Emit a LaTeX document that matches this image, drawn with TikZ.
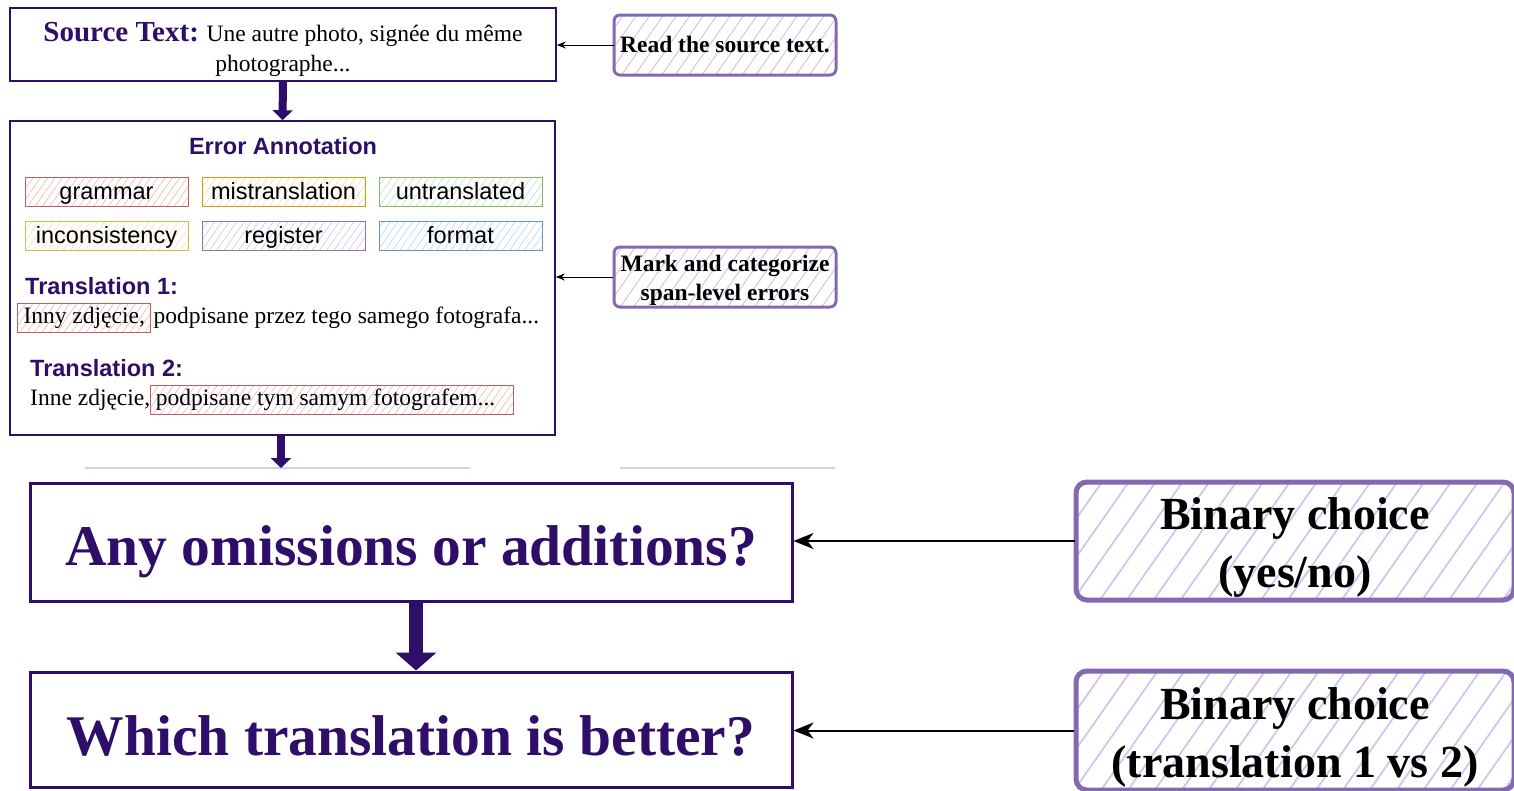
\documentclass[tikz,border=0pt]{standalone}
\usepackage{fontspec}
\setmainfont{Liberation Serif}
\setsansfont{Liberation Sans}
\usetikzlibrary{arrows.meta,positioning,patterns.meta}
\definecolor{deeppurple}{RGB}{46,14,104}
\definecolor{lilac}{RGB}{132,104,176}
\definecolor{lilachatch}{RGB}{210,196,238}
\definecolor{cutline}{RGB}{214,206,232}
% draw.io like tag colours
\definecolor{redline}{RGB}{190,96,92}\definecolor{redhatch}{RGB}{238,184,182}
\definecolor{orangeline}{RGB}{215,155,0}\definecolor{orangehatch}{RGB}{250,214,170}
\definecolor{greenline}{RGB}{130,179,102}\definecolor{greenhatch}{RGB}{196,224,190}
\definecolor{yellowline}{RGB}{214,182,86}\definecolor{yellowhatch}{RGB}{246,228,170}
\definecolor{purpleline}{RGB}{150,115,166}\definecolor{purplehatch}{RGB}{212,196,226}
\definecolor{blueline}{RGB}{108,142,191}\definecolor{bluehatch}{RGB}{190,212,242}
\newcommand\pushdown[1]{\rule{0pt}{#1}}

\begin{document}
\begin{tikzpicture}
  [x=1pt,y=-1pt,
   mainbox/.style={draw=deeppurple,line width=1.6pt,fill=white,inner sep=0pt},
   bigbox/.style={draw=deeppurple,line width=3pt,fill=white,inner sep=0pt,
     minimum width=762pt,text=deeppurple,text depth=2pt,
     font=\bfseries\fontsize{57.5}{60}\selectfont},
   tagbox/.style 2 args={draw=#1,line width=1pt,
     pattern={Lines[angle=55,distance=6pt,line width=0.6pt]},pattern color=#2,
     minimum width=163pt,minimum height=29pt,inner sep=0pt,
     text height=20pt,text depth=5pt,
     font=\sffamily\fontsize{23.5}{26}\selectfont},
   hlbox/.style={draw=redline,line width=1pt,
     pattern={Lines[angle=55,distance=6pt,line width=0.6pt]},pattern color=redhatch,
     inner xsep=6pt,inner ysep=4pt,text height=16pt,text depth=5pt,
     font=\fontsize{23.5}{26}\selectfont},
   plaintxt/.style={inner xsep=0pt,inner ysep=4pt,text height=16pt,text depth=5pt,
     font=\fontsize{23.5}{26}\selectfont},
   heading/.style={text=deeppurple,inner sep=0pt,
     font=\sffamily\bfseries\fontsize{23.5}{26}\selectfont},
   notebox/.style={draw=lilac,line width=3pt,rounded corners=6pt,
     pattern={Lines[angle=55,distance=11pt,line width=1pt]},pattern color=lilachatch,
     minimum width=222pt,minimum height=60pt,inner sep=0pt,align=center,
     font=\bfseries\fontsize{23.5}{29}\selectfont},
   bignote/.style={draw=lilac,line width=5pt,rounded corners=11pt,
     pattern={Lines[angle=55,distance=22pt,line width=1.8pt]},pattern color=lilachatch,
     minimum width=438pt,inner sep=0pt,align=center,
     font=\bfseries\fontsize{46}{58}\selectfont},
   blockarrow/.style={draw=deeppurple,line width=8pt,
     -{Triangle[width=20pt,length=10pt]}},
   bigblockarrow/.style={draw=deeppurple,line width=14pt,
     -{Triangle[width=40pt,length=18pt]}},
   notearrow/.style={draw=black,line width=1pt,-{Stealth[length=9pt,width=7pt]}},
   bignotearrow/.style={draw=black,line width=2pt,-{Stealth[length=20pt,width=16pt,inset=6pt]}},
  ]
  \useasboundingbox (0,0) rectangle (1514,790);

  % top part
  \node[mainbox,minimum width=546pt,minimum height=73pt,align=center,
        font=\fontsize{23.5}{30}\selectfont] (src) at (283,44.5)
    {\pushdown{30pt}{\color{deeppurple}\bfseries\fontsize{29}{30}\selectfont Source Text:} Une autre photo, signée du même\\photographe...};
  \node[mainbox,minimum width=545pt,minimum height=314pt] (err) at (282.5,278) {};

  \node[heading] (title) at (283,146) {Error Annotation};
  \node[tagbox={redline}{redhatch}] (grammar) at (106.5,192) {grammar};
  \node[tagbox={orangeline}{orangehatch}] (mistrans) at (283.5,192) {mistranslation};
  \node[tagbox={greenline}{greenhatch}] (untrans) at (460.5,192) {untranslated};
  \node[tagbox={yellowline}{yellowhatch}] (incons) at (106.5,236) {inconsistency};
  \node[tagbox={purpleline}{purplehatch}] (register) at (283.5,236) {register};
  \node[tagbox={blueline}{bluehatch}] (format) at (460.5,236) {format};

  \node[heading,anchor=west] (tr1) at (25,286) {Translation 1:};
  \node[hlbox,anchor=west] (t1err) at (17,317.5) {Inny zdjęcie,};
  \node[plaintxt,right=2pt of t1err] (t1ok) {podpisane przez tego samego fotografa...};

  \node[heading,anchor=west] (tr2) at (30,368) {Translation 2:};
  \node[plaintxt,anchor=west] (t2ok) at (30,400) {Inne zdjęcie,};
  \node[hlbox,right=0pt of t2ok,inner xsep=5pt] (t2err) {podpisane tym samym fotografem...\hspace*{13pt}};

  \node[notebox] (read) at (725,45) {Read the source text.};
  \node[notebox] (mark) at (725,277) {\pushdown{22pt}Mark and categorize\\span-level errors};

  \coordinate (cut) at (281,468);
  \draw[cutline,line width=1.5pt] (85,468) -- (470,468) (620,468) -- (835,468);

  \draw[blockarrow] (src.south) -- (err.north);
  \draw[blockarrow] (err.south -| cut) -- (cut);
  \draw[notearrow] (read.west) -- (read.west -| src.east);
  \draw[notearrow] (mark.west) -- (mark.west -| err.east);

  % bottom part
  \node[bigbox,minimum height=118pt,text height=48pt] (omit) at (411,542) {Any omissions or additions?};
  \node[bigbox,minimum height=115pt,text height=54pt] (better) at (411,729.5) {Which translation is better?};
  \node[bignote,minimum height=118pt] (yesno) at (1295,541) {\pushdown{44pt}Binary choice\\(yes/no)};
  \node[bignote,minimum height=119pt] (pair) at (1295,730.5) {\pushdown{45pt}Binary choice\\(translation 1 vs 2)};

  \draw[bigblockarrow] ([xshift=5pt]omit.south) -- ([xshift=5pt]better.north);
  \draw[bignotearrow] (yesno.west) -- (yesno.west -| omit.east);
  \draw[bignotearrow] (pair.west) -- (pair.west -| better.east);
\end{tikzpicture}
\end{document}
